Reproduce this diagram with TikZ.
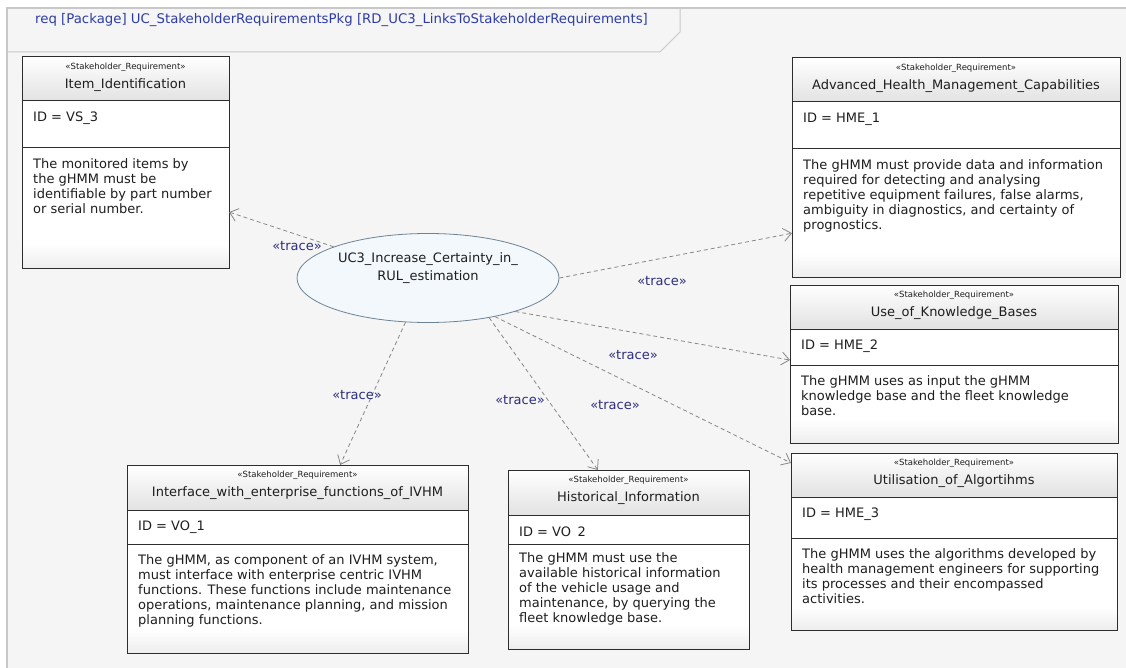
\documentclass[tikz,border=0pt]{standalone}
\usepackage{fontspec}
\setmainfont{DejaVu Sans}
\usetikzlibrary{arrows.meta,shapes.geometric,calc}
\definecolor{bg}{RGB}{245,245,245}
\definecolor{frameline}{RGB}{200,200,200}
\definecolor{boxline}{RGB}{45,45,45}
\definecolor{titlebot}{RGB}{226,226,226}
\definecolor{tracecol}{RGB}{45,45,125}
\definecolor{hdrcol}{RGB}{45,60,165}
\definecolor{ucfill}{RGB}{243,248,252}
\definecolor{ucline}{RGB}{110,130,150}
\definecolor{dashcol}{RGB}{135,135,135}
\definecolor{txt}{RGB}{30,30,30}
\tikzset{
  reqframe/.style={draw=boxline, fill=white, line width=1pt, inner sep=0pt, outer sep=0pt},
  stereo/.style={font=\fontsize{8.5}{9}\selectfont, text=txt, inner sep=0pt},
  titletext/.style={font=\fontsize{13}{15}\selectfont, text=txt, inner sep=0pt},
  idtext/.style={font=\fontsize{13}{15}\selectfont, text=txt, inner sep=0pt, anchor=west},
  bodytext/.style={font=\fontsize{13}{15}\selectfont, text=txt, inner sep=0pt, align=left, anchor=north west},
  tracelbl/.style={font=\fontsize{13}{15}\selectfont, text=tracecol, inner sep=1pt},
  tracearrow/.style={draw=dashcol, line width=0.8pt, dash pattern=on 4pt off 3pt,
     -{Straight Barb[length=8pt,width=13pt,line width=0.8pt]}},
}
\newcommand{\reqbox}[9]{%
  % #1 name, #2 x, #3 y, #4 width, #5 height, #6 title bottom, #7 id bottom, #8 title, #9 id
  \node[reqframe, minimum width=#4pt, minimum height=#5pt, anchor=north west] (#1) at (#2,#3) {};
  \shade[top color=white, bottom color=titlebot] (#1.north west) rectangle ($(#1.north east)+(0,#6)$);
  \shade[top color=white, bottom color=black!7] ($(#1.south west)+(0,-24)$) rectangle (#1.south east);
  \draw[boxline, line width=1pt] ($(#1.north west)+(0,#6)$) -- ($(#1.north east)+(0,#6)$);
  \draw[boxline, line width=1pt] ($(#1.north west)+(0,#7)$) -- ($(#1.north east)+(0,#7)$);
  \draw[boxline, line width=1pt] (#1.north west) rectangle (#1.south east);
  \node[stereo] (#1-s) at ($(#1.north)+(0,10)$) {«Stakeholder\_Requirement»};
  \node[titletext] (#1-t) at ($(#1.north)+(0,28)$) {#8};
  \node[idtext] (#1-i) at ($(#1.north west)+(11,{#6+17})$) {#9};
}
\begin{document}
\begin{tikzpicture}[x=1pt,y=-1pt]
\useasboundingbox (0,0) rectangle (1126,668);
\fill[white] (0,0) rectangle (1126,668);
\fill[bg] (7,8) rectangle (1126,668);
\draw[frameline, line width=1.5pt] (1126,8) -- (7,8) -- (7,668);
\draw[frameline, line width=1pt] (7,52) -- (660,52) -- (680,32) -- (680,8);
\node[anchor=west, font=\fontsize{13.3}{15}\selectfont, text=hdrcol, inner sep=0pt] (hdr) at (35,20)
  {req [Package] UC\_StakeholderRequirementsPkg [RD\_UC3\_LinksToStakeholderRequirements]};

% boxes
\reqbox{itm}{22}{57}{207}{211}{44}{91}{Item\_Identification}{ID = VS\_3}
\node[bodytext] (itm-b) at ($(itm.north west)+(11,101)$)
  {The monitored items by\\the gHMM must be\\identifiable by part number\\or serial number.};

\reqbox{adv}{792}{58}{328}{219}{44}{91}{Advanced\_Health\_Management\_Capabilities}{ID = HME\_1}
\node[bodytext] (adv-b) at ($(adv.north west)+(11,101)$)
  {The gHMM must provide data and information\\required for detecting and analysing\\repetitive equipment failures, false alarms,\\ambiguity in diagnostics, and certainty of\\prognostics.};

\reqbox{kb}{790}{285}{328}{158}{44}{80}{Use\_of\_Knowledge\_Bases}{ID = HME\_2}
\node[bodytext] (kb-b) at ($(kb.north west)+(11,90)$)
  {The gHMM uses as input the gHMM\\knowledge base and the fleet knowledge\\base.};

\reqbox{alg}{791}{453}{326}{177}{44}{85}{Utilisation\_of\_Algortihms}{ID = HME\_3}
\node[bodytext] (alg-b) at ($(alg.north west)+(11,95)$)
  {The gHMM uses the algorithms developed by\\health management engineers for supporting\\its processes and their encompassed\\activities.};

\reqbox{ifc}{127}{465}{341}{188}{45}{79}{Interface\_with\_enterprise\_functions\_of\_IVHM}{ID = VO\_1}
\node[bodytext] (ifc-b) at ($(ifc.north west)+(11,89)$)
  {The gHMM, as component of an IVHM system,\\must interface with enterprise centric IVHM\\functions. These functions include maintenance\\operations, maintenance planning, and mission\\planning functions.};

\reqbox{his}{508}{470}{241}{179}{45}{74}{Historical\_Information}{ID = VO\enspace 2}
\node[bodytext] (his-b) at ($(his.north west)+(11,82)$)
  {The gHMM must use the\\available historical information\\of the vehicle usage and\\maintenance, by querying the\\fleet knowledge base.};

% use case
\node[ellipse, draw=ucline, fill=ucfill, line width=0.8pt, minimum width=262pt, minimum height=89pt, inner sep=0pt] (uc) at (428,278) {};
\node[align=center, font=\fontsize{13}{18}\selectfont, text=txt, inner sep=0pt] (uct) at (428,268)
  {UC3\_Increase\_Certainty\_in\_\\RUL\_estimation};

% connectors
\draw[tracearrow] (uc) -- ($(itm.north east)!0.735!(itm.south east)$);
\draw[tracearrow] (uc.east) -- ($(adv.north west)!0.8!(adv.south west)$);
\draw[tracearrow] (uc.-21) -- ($(kb.north west)!0.475!(kb.south west)$);
\draw[tracearrow] (uc.-30) -- ($(alg.north west)!0.056!(alg.south west)$);
\draw[tracearrow] (uc.-33) -- ($(his.north west)!0.373!(his.north east)$);
\draw[tracearrow] (uc.-117) -- ($(ifc.north west)!0.625!(ifc.north east)$);

% labels
\node[tracelbl] (l1) at (297,246) {«trace»};
\node[tracelbl] (l2) at (662,281) {«trace»};
\node[tracelbl] (l3) at (633,355) {«trace»};
\node[tracelbl] (l4) at (357,395) {«trace»};
\node[tracelbl] (l5) at (520,400) {«trace»};
\node[tracelbl] (l6) at (615,405) {«trace»};
\end{tikzpicture}
\end{document}
